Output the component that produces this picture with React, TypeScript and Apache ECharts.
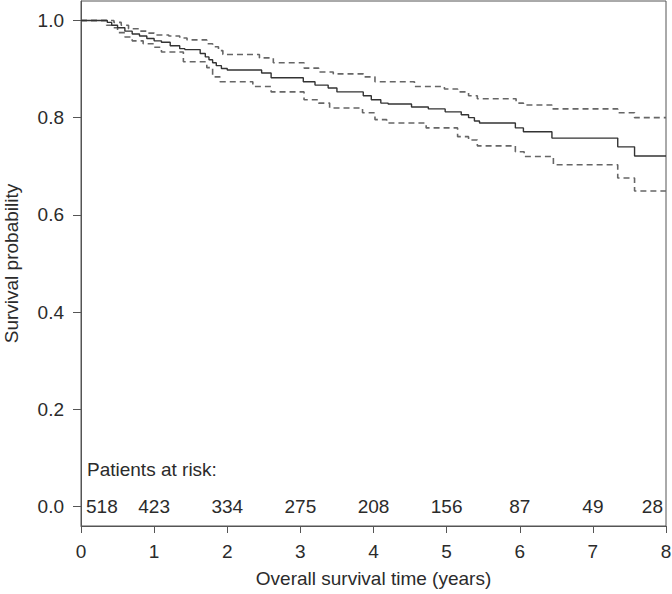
import React, { useEffect, useRef } from "react";
import * as echarts from "echarts";

const kmTime = [0, 0.36, 0.42, 0.5, 0.6, 0.7, 0.8, 0.9, 1.0, 1.1, 1.22, 1.35, 1.42, 1.63, 1.7, 1.75, 1.8, 1.85, 1.92, 2.0, 2.47, 2.6, 3.04, 3.2, 3.38, 3.5, 3.86, 3.97, 4.1, 4.2, 4.52, 4.75, 4.98, 5.2, 5.3, 5.38, 5.45, 5.94, 6.05, 6.44, 7.34, 7.57, 8];
const kmSurv = [1.0, 0.996, 0.99, 0.985, 0.978, 0.972, 0.968, 0.963, 0.958, 0.955, 0.948, 0.942, 0.94, 0.932, 0.925, 0.919, 0.913, 0.907, 0.901, 0.898, 0.892, 0.882, 0.874, 0.867, 0.861, 0.853, 0.845, 0.837, 0.83, 0.828, 0.822, 0.818, 0.812, 0.806, 0.8, 0.793, 0.789, 0.779, 0.771, 0.758, 0.74, 0.721, 0.721];

const upperTime = [0, 0.45, 0.55, 0.65, 0.8, 0.9, 1.0, 1.2, 1.35, 1.45, 1.72, 1.8, 1.88, 1.94, 2.44, 2.63, 3.05, 3.25, 3.45, 3.86, 4.02, 4.56, 4.97, 5.15, 5.3, 5.42, 5.95, 6.05, 6.44, 7.34, 7.57, 8];
const upperSurv = [1.0, 0.996, 0.99, 0.983, 0.978, 0.974, 0.97, 0.968, 0.964, 0.96, 0.952, 0.946, 0.938, 0.93, 0.923, 0.913, 0.902, 0.894, 0.89, 0.884, 0.874, 0.864, 0.859, 0.853, 0.845, 0.839, 0.83, 0.826, 0.818, 0.81, 0.8, 0.8];

const lowerTime = [0, 0.35, 0.42, 0.5, 0.6, 0.7, 0.85, 1.0, 1.1, 1.4, 1.72, 1.8, 1.9, 2.35, 2.6, 3.05, 3.25, 3.4, 3.85, 4.02, 4.18, 4.72, 5.15, 5.3, 5.42, 5.94, 6.06, 6.46, 7.34, 7.57, 8];
const lowerSurv = [1.0, 0.99, 0.985, 0.975, 0.966, 0.958, 0.952, 0.945, 0.935, 0.915, 0.903, 0.884, 0.874, 0.864, 0.853, 0.837, 0.83, 0.82, 0.81, 0.796, 0.789, 0.779, 0.761, 0.754, 0.742, 0.73, 0.72, 0.703, 0.676, 0.649, 0.649];

const riskTimes = [0, 1, 2, 3, 4, 5, 6, 7, 8];
const riskCounts = [518, 423, 334, 275, 208, 156, 87, 49, 28];

const yTicks = [0, 0.2, 0.4, 0.6, 0.8, 1.0];

const FONT = "'Liberation Sans', Arial, Helvetica, sans-serif";
const TEXT = "#2b2b2b";
const AXIS = "#555";
const FS = 19;

const zip = (t: number[], v: number[]) => t.map((x, i) => [x, v[i]]);

export default function App() {
  const ref = useRef<HTMLDivElement>(null);
  useEffect(() => {
    document.body.style.margin = "0";
    if (!ref.current) return;
    const chart = echarts.init(ref.current, undefined, { renderer: "svg" });
    const riskData = riskTimes.map((t, i) => {
      const item: any = { value: [t, 0, riskCounts[i]] };
      if (i === 0) item.label = { align: "left", offset: [5, 0] };
      if (i === riskTimes.length - 1) item.label = { align: "right", offset: [-3, 0] };
      return item;
    });
    chart.setOption({
      animation: false,
      textStyle: { fontFamily: FONT, color: TEXT },
      grid: {
        left: 81,
        right: 6,
        top: 1,
        bottom: 68,
        show: true,
        borderColor: AXIS,
        borderWidth: 1,
        backgroundColor: "transparent",
        containLabel: false,
        outerBoundsMode: "none",
      },
      xAxis: {
        type: "value",
        min: 0,
        max: 8,
        interval: 1,
        axisLine: { show: true, onZero: false, lineStyle: { color: AXIS, width: 1 } },
        axisTick: { show: true, length: 7, lineStyle: { color: AXIS } },
        axisLabel: { color: TEXT, fontSize: FS, margin: 16, fontFamily: FONT },
        splitLine: { show: false },
        name: "Overall survival time (years)",
        nameLocation: "middle",
        nameGap: 43,
        nameTextStyle: { color: TEXT, fontSize: FS, fontFamily: FONT },
      },
      yAxis: {
        type: "value",
        min: -0.04,
        max: 1.04,
        axisLine: { show: true, onZero: false, lineStyle: { color: AXIS, width: 1 } },
        axisTick: { show: true, length: 8, lineStyle: { color: AXIS }, customValues: yTicks },
        axisLabel: {
          color: TEXT,
          fontSize: FS,
          margin: 17,
          fontFamily: FONT,
          customValues: yTicks,
          formatter: (v: number) => v.toFixed(1),
        },
        splitLine: { show: false },
        name: "Survival probability",
        nameLocation: "middle",
        nameGap: 60,
        nameRotate: 90,
        nameTextStyle: { color: TEXT, fontSize: FS, fontFamily: FONT },
      },
      graphic: [
        {
          type: "text",
          left: 87,
          top: 460,
          style: { text: "Patients at risk:", fontSize: FS, fontFamily: FONT, fill: TEXT },
        },
      ],
      series: [
        {
          type: "line",
          step: "end",
          data: zip(upperTime, upperSurv),
          showSymbol: false,
          symbol: "none",
          lineStyle: { color: "#666", width: 1.6, type: [6, 4] },
          z: 2,
        },
        {
          type: "line",
          step: "end",
          data: zip(lowerTime, lowerSurv),
          showSymbol: false,
          symbol: "none",
          lineStyle: { color: "#666", width: 1.6, type: [6, 4] },
          z: 2,
        },
        {
          type: "line",
          step: "end",
          data: zip(kmTime, kmSurv),
          showSymbol: false,
          symbol: "none",
          lineStyle: { color: "#333", width: 1.4 },
          z: 3,
        },
        {
          type: "scatter",
          data: riskData,
          symbolSize: 0,
          itemStyle: { opacity: 1 },
          label: {
            show: true,
            position: "inside",
            formatter: (p: any) => String(p.value[2]),
            fontSize: FS,
            fontFamily: FONT,
            color: TEXT,
            opacity: 1,
          },
          z: 4,
        },
      ],
    });
    return () => chart.dispose();
  }, []);
  return <div ref={ref} style={{ width: 672, height: 594 }} />;
}
